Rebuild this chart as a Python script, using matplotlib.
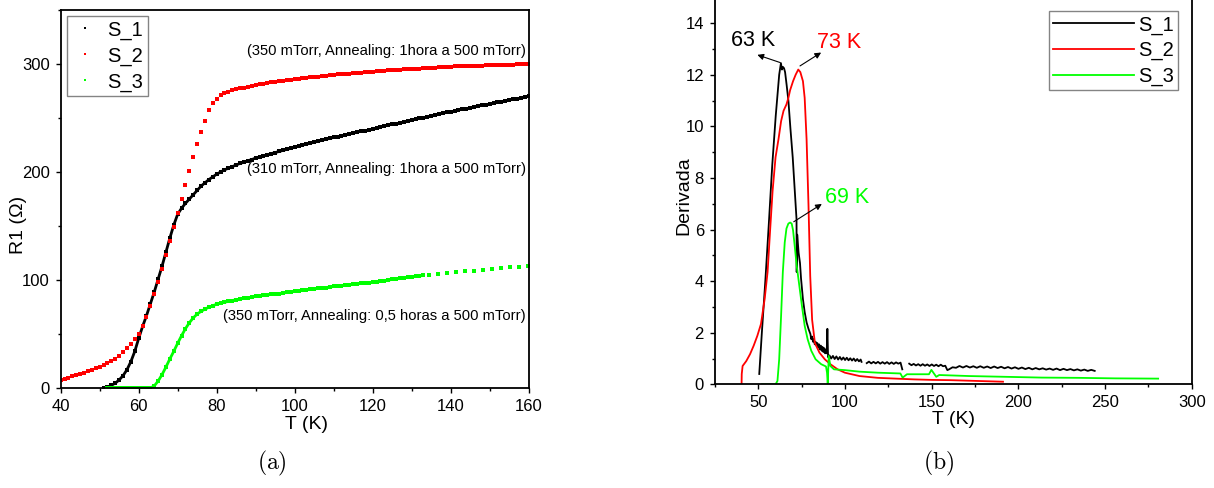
import matplotlib
matplotlib.use("Agg")
import matplotlib.pyplot as plt
import numpy as np
from matplotlib.ticker import MultipleLocator

plt.rcParams['font.family'] = ['Liberation Sans', 'DejaVu Sans']
plt.rcParams['mathtext.fontset'] = 'cm'

# ---- (a) R1 vs T ----
T_s1 = [51, 52, 53, 54, 55, 56, 57, 58, 59, 60, 61, 62, 63, 64, 65, 66, 67, 68, 69, 70,
        71, 72, 73, 74, 75, 76, 77, 78, 79, 80, 81, 82, 83, 84, 85, 86, 87, 88, 89, 90,
        91, 92, 93, 94, 95, 96, 97, 98, 99, 100, 101, 102, 103, 104, 105, 106, 107, 108, 109, 110,
        111, 112, 113, 114, 115, 116, 117, 118, 119, 120, 121, 122, 123, 124, 125, 126, 127, 128, 129, 130,
        131, 132, 133, 134, 135, 136, 137, 138, 139, 140, 141, 142, 143, 144, 145, 146, 147, 148, 149, 150,
        151, 152, 153, 154, 155, 156, 157, 158, 159, 160]
R_s1 = [0.3, 1.0, 2.5, 4.5, 7.5, 11.5, 17.0, 24.5, 34.0, 46.0, 57.0, 67.0, 78.0, 89.0, 101.0, 113.0, 126.0, 139.0, 151.0, 161.0,
        166.5, 171.0, 175.0, 179.0, 183.0, 187.0, 190.0, 193.0, 195.5, 198.0, 200.0, 202.0, 203.5, 205.0, 206.5, 208.0, 209.0, 210.5, 211.5, 213.0,
        214.0, 215.0, 216.0, 217.0, 218.0, 219.0, 220.0, 221.0, 222.0, 223.0, 224.0, 224.9, 225.8, 226.7, 227.6, 228.5, 229.4, 230.3, 231.2, 232.0,
        232.8, 233.6, 234.4, 235.2, 236.0, 236.8, 237.6, 238.4, 239.2, 240.0, 240.8, 241.6, 242.4, 243.2, 244.0, 244.8, 245.6, 246.4, 247.2, 248.0,
        248.8, 249.6, 250.4, 251.2, 252.0, 252.8, 253.6, 254.4, 255.2, 256.0, 256.7, 257.4, 258.1, 258.8, 259.5, 260.2, 260.9, 261.6, 262.3, 263.0,
        263.7, 264.4, 265.1, 265.8, 266.5, 267.2, 267.9, 268.6, 269.3, 270.0]

T_s2 = [40, 41, 42, 43, 44, 45, 46, 47, 48, 49, 50, 51, 52, 53, 54, 55, 56, 57, 58, 59, 60,
        61, 62, 63, 64, 65, 66, 67, 68, 69, 70, 71, 72, 73, 74, 75, 76, 77, 78, 79, 80,
        81, 82, 83, 84, 85, 86, 87, 88, 89, 90, 91, 92, 93, 94, 95, 96, 97, 98, 99, 100,
        101, 102, 103, 104, 105, 106, 107, 108, 109, 110, 111, 112, 113, 114, 115, 116, 117, 118, 119, 120,
        121, 122, 123, 124, 125, 126, 127, 128, 129, 130, 131, 132, 133, 134, 135, 136, 137, 138, 139, 140,
        141, 142, 143, 144, 145, 146, 147, 148, 149, 150, 151, 152, 153, 154, 155, 156, 157, 158, 159, 160]
R_s2 = [7.7, 8.7, 9.7, 10.8, 11.9, 13.0, 14.2, 15.4, 16.7, 18.1, 19.5, 21.0, 22.8, 24.8, 27.2, 30.0, 33.0, 37.0, 41.0, 45.5, 50.0,
        57.0, 66.0, 76.0, 87.0, 98.0, 110.0, 123.0, 136.0, 149.0, 162.0, 175.0, 188.0, 201.0, 214.0, 226.0, 237.0, 247.0, 257.0, 264.0, 268.0,
        271.0, 273.0, 274.3, 275.5, 276.5, 277.4, 278.2, 279.0, 279.8, 280.5, 281.1, 281.7, 282.3, 282.9, 283.4, 283.9, 284.4, 284.9, 285.4, 286.0,
        286.4, 286.8, 287.2, 287.6, 288.0, 288.4, 288.8, 289.2, 289.6, 290.0, 290.3, 290.6, 290.9, 291.2, 291.5, 291.8, 292.1, 292.4, 292.7, 293.0,
        293.2, 293.5, 293.7, 294.0, 294.2, 294.5, 294.7, 295.0, 295.2, 295.4, 295.6, 295.8, 296.1, 296.3, 296.5, 296.7, 296.9, 297.1, 297.4, 297.6,
        297.7, 297.8, 297.9, 298.0, 298.2, 298.3, 298.4, 298.5, 298.7, 298.8, 298.9, 299.0, 299.1, 299.2, 299.4, 299.5, 299.6, 299.7, 299.9, 300.0]

T_s3 = [52, 53, 54, 55, 56, 57, 58, 59, 60, 61, 62, 63, 64, 65, 66, 67, 68, 69, 70,
        71, 72, 73, 74, 75, 76, 77, 78, 79, 80, 81, 82, 83, 84, 85, 86, 87, 88, 89, 90,
        91, 92, 93, 94, 95, 96, 97, 98, 99, 100, 101, 102, 103, 104, 105, 106, 107, 108, 109, 110,
        111, 112, 113, 114, 115, 116, 117, 118, 119, 120, 121, 122, 123, 124, 125, 126, 127, 128, 129, 130,
        131, 132, 133, 134.5, 136.8, 139.1, 141.4, 143.7, 146.0, 148.3, 150.6, 152.9, 155.2, 157.5, 159.8]
R_s3 = [0, 0, 0, 0, 0, 0, 0, 0, 0, 0, 0, 0, 2.0, 6.5, 12.5, 19.5, 27.0, 34.0, 41.5,
        48.5, 55.0, 60.5, 65.0, 68.5, 71.0, 73.0, 74.8, 76.3, 77.5, 78.5, 79.4, 80.2, 81.0, 81.7, 82.4, 83.0, 83.6, 84.2, 84.8,
        85.3, 85.8, 86.2, 86.6, 87.0, 87.5, 88.0, 88.5, 89.0, 89.5, 90.0, 90.5, 91.0, 91.4, 91.8, 92.2, 92.6, 93.0, 93.5, 94.0,
        94.4, 94.8, 95.2, 95.6, 96.0, 96.4, 96.8, 97.2, 97.6, 98.0, 98.5, 99.0, 99.5, 100.0, 100.5, 101.0, 101.5, 102.0, 102.5, 103.0,
        103.4, 103.8, 104.2, 104.8, 105.6, 106.6, 107.2, 108.0, 108.8, 109.6, 110.5, 111.0, 111.6, 112.3, 113.0]

notes_a = ["(350 mTorr, Annealing: 1hora a 500 mTorr)",
           "(310 mTorr, Annealing: 1hora a 500 mTorr)",
           "(350 mTorr, Annealing: 0,5 horas a 500 mTorr)"]
notes_a_y = [312, 203, 67]

# ---- (b) derivative ----
nan = float('nan')
Td_s1 = [50.5, 52, 54, 56, 58, 60, 62, 63.0, 63.6, 64.2, 64.8, 65.4, 66.3, 67.3, 68.5, 69.8, 71.0, 72.0, 72.1, 72.4,
         73.2, 74.0, 74.6, 75.7, 76.7, 77.8, 78.9, 80.0, 80.5, 81.0, 81.5, 82.0, 82.5, 83.0, 83.5, 84.0, 84.5,
         85.0, 85.5, 86.0, 86.5, 87.0, 87.5, 88.0, 88.5, 89.0, 89.4, 89.8, 90.2, 91, 92, 93, 94, 95, 96, 97, 98, 99, 100,
         101, 102, 103, 104, 105, 106, 107, 108, 109, 109.5, 111,
         112.5, 113.8, 115.1, 116.4, 117.7, 119.0, 120.3, 121.6, 122.9, 124.2, 125.5, 126.8, 128.1, 129.4, 130.7, 132.0, 133.0, 135,
         137.0, 138.3, 139.6, 140.9, 142.2, 143.5, 144.8, 146.1, 147.4, 148.7, 150.0, 151.3, 152.6, 153.9, 155.2, 156.5, 157.8, 159.0,
         160, 162, 164, 166, 168, 170, 172, 174, 176, 178, 180, 182, 184, 186, 188, 190, 192, 194, 196, 198, 200,
         202, 204, 206, 208, 210, 212, 214, 216, 218, 220, 222, 224, 226, 228, 230, 232, 234, 236, 238, 240, 242, 244]
D_s1 = [0.4, 2.0, 4.0, 6.2, 8.5, 10.4, 12.0, 12.45, 12.2, 12.3, 12.25, 12.1, 11.6, 11.0, 9.9, 8.8, 7.5, 6.4, 4.35, 5.8,
        5.1, 4.7, 4.1, 3.3, 2.8, 2.4, 2.15, 1.95, 1.75, 1.85, 1.65, 1.75, 1.55, 1.65, 1.5, 1.6, 1.42,
        1.55, 1.35, 1.5, 1.3, 1.45, 1.25, 1.4, 1.2, 1.35, 1.2, 2.15, 1.05, 1.12, 1.0, 1.1, 0.98, 1.08, 0.96, 1.06, 0.95, 1.04, 0.94,
        1.03, 0.93, 1.01, 0.92, 1.0, 0.9, 0.98, 0.89, 0.96, 0.87, nan,
        0.82, 0.88, 0.81, 0.87, 0.81, 0.87, 0.8, 0.86, 0.8, 0.86, 0.79, 0.85, 0.79, 0.85, 0.8, 0.84, 0.58, nan,
        0.8, 0.74, 0.79, 0.73, 0.78, 0.72, 0.78, 0.72, 0.77, 0.71, 0.77, 0.71, 0.76, 0.7, 0.76, 0.7, 0.72, 0.55,
        0.58, 0.66, 0.64, 0.71, 0.65, 0.71, 0.65, 0.70, 0.64, 0.70, 0.64, 0.69, 0.63, 0.69, 0.63, 0.68, 0.62, 0.67, 0.61, 0.66, 0.60,
        0.65, 0.59, 0.64, 0.58, 0.63, 0.58, 0.62, 0.57, 0.61, 0.56, 0.61, 0.55, 0.60, 0.55, 0.59, 0.54, 0.58, 0.53, 0.57, 0.52, 0.56, 0.52]

Td_s2 = [40.3, 40.4, 40.9, 43, 45.2, 47.3, 49.4, 51.5, 53.6, 55.3, 56.7, 58.2, 59.9, 61.6, 63.1, 64.5, 66.2, 67.3, 68.3, 70,
         71.5, 73, 74.2, 75.7, 76.7, 77.8, 78.9, 79.9, 81, 82.6, 85.2, 88.3, 91.5, 95.7, 99.9, 108.3, 118.9, 129.4, 139.9,
         150.4, 161, 176, 191.1]
D_s2 = [0, 0.4, 0.71, 0.9, 1.17, 1.5, 1.88, 2.34, 3.3, 4.35, 5.9, 7.5, 8.8, 9.5, 10.2, 10.6, 10.85, 11.1, 11.4, 11.75,
        12.0, 12.2, 12.1, 11.75, 11.1, 9.5, 6.95, 4.2, 2.5, 1.6, 1.23, 0.97, 0.78, 0.58, 0.45, 0.32, 0.25, 0.22, 0.19,
        0.17, 0.16, 0.13, 0.1]

Td_s3 = [52.1, 59.9, 61, 62, 63.1, 64.1, 65.2, 66.2, 67.3, 68.3, 69.2, 70, 70.9, 72.1, 73.6, 75.1, 76.7, 78.4, 80.5,
         83, 86.2, 89, 89.6, 90, 90.6, 91.5, 93.6, 99.9, 108.3, 118.9, 131.9, 133.2, 135.7, 148.4, 149.8, 152.6,
         154.3, 171.5, 192.6, 213.6, 234.7, 255.8, 280.6]
D_s3 = [0, 0, 0.13, 0.97, 2.66, 4.35, 5.5, 6.04, 6.23, 6.27, 6.23, 5.97, 5.4, 4.6, 3.83, 3.05, 2.27, 1.75, 1.3,
        0.97, 0.78, 0.69, 0.45, 0.04, 1.1, 0.71, 0.58, 0.55, 0.49, 0.45, 0.42, 0.26, 0.39, 0.39, 0.56, 0.29,
        0.36, 0.32, 0.29, 0.26, 0.25, 0.23, 0.22]

labels = ["S_1", "S_2", "S_3"]
colors = ["black", "red", "#00ff00"]

# peak labels: text, text pos, arrow tail, arrow head
peaks = [("63 K", (34.2, 13.34), (62.6, 12.47), (49.4, 12.77)),
         ("73 K", (83.7, 13.25), (74.0, 12.34), (86.2, 12.86)),
         ("69 K", (88.3, 7.25), (70.4, 6.3), (86.6, 6.99))]

fig = plt.figure(figsize=(12.14, 4.88), dpi=100)
ax1 = fig.add_axes([0.050, 0.2049, 0.3855, 0.7746])
ax2 = fig.add_axes([0.589, 0.2125, 0.3927, 0.793])

# (a)
ms = 2.2
ax1.plot(T_s1[:60], R_s1[:60], '-', color=colors[0], lw=2.0)
ax1.plot(T_s1, R_s1, 's', color=colors[0], ms=ms, mew=0, label=labels[0])
ax1.plot(T_s2, R_s2, 's', color=colors[1], ms=ms, mew=0, label=labels[1])
ax1.plot(T_s3[:82], R_s3[:82], '-', color=colors[2], lw=2.0)
ax1.plot(T_s3, R_s3, 's', color=colors[2], ms=ms, mew=0, label=labels[2])
for s, yy in zip(notes_a, notes_a_y):
    ax1.text(159.2, yy, s, ha='right', va='center', fontsize=10.6)

ax1.set_xlim(40, 160)
ax1.set_ylim(0, 350)
ax1.xaxis.set_major_locator(MultipleLocator(20))
ax1.xaxis.set_minor_locator(MultipleLocator(10))
ax1.yaxis.set_major_locator(MultipleLocator(100))
ax1.yaxis.set_minor_locator(MultipleLocator(50))
ax1.set_xlabel("T (K)", fontsize=14)
ax1.set_ylabel("R1 (Ω)", fontsize=14)
ax1.xaxis.set_label_coords(0.525, -0.073)
ax1.yaxis.set_label_coords(-0.072, 0.431)
ax1.legend(loc='upper left', fontsize=14.5, markerscale=0.9, frameon=True, fancybox=False,
           edgecolor='#666666', handlelength=1.4, handletextpad=0.4, labelspacing=0.33,
           borderpad=0.22, borderaxespad=0.3)

# (b)
ax2.plot(Td_s1, D_s1, color=colors[0], lw=1.3, label=labels[0])
ax2.plot(Td_s2, D_s2, color=colors[1], lw=1.3, label=labels[1])
ax2.plot(Td_s3, D_s3, color=colors[2], lw=1.3, label=labels[2])
for (txt, tpos, tail, head), c in zip(peaks, colors):
    ax2.annotate("", xy=head, xytext=tail,
                 arrowprops=dict(arrowstyle='-|>', color='black', lw=0.8,
                                 mutation_scale=9, shrinkA=0, shrinkB=0))
    ax2.text(tpos[0], tpos[1], txt, color=c, fontsize=15.5, ha='left', va='center')

ax2.set_xlim(25, 300)
ax2.set_ylim(0, 15)
ax2.xaxis.set_major_locator(MultipleLocator(50))
ax2.xaxis.set_minor_locator(MultipleLocator(25))
ax2.yaxis.set_major_locator(MultipleLocator(2))
ax2.yaxis.set_minor_locator(MultipleLocator(1))
ax2.set_xlabel("T (K)", fontsize=14)
ax2.set_ylabel("Derivada", fontsize=14)
ax2.xaxis.set_label_coords(0.5, -0.070)
ax2.yaxis.set_label_coords(-0.048, 0.487)
ax2.legend(loc='upper right', fontsize=14.5, frameon=True, fancybox=False,
           edgecolor='#666666', handlelength=4.0, handletextpad=0.2, labelspacing=0.32,
           borderpad=0.2, borderaxespad=0.7)

for ax in (ax1, ax2):
    for sp in ax.spines.values():
        sp.set_linewidth(1.3)
    ax.tick_params(which='major', direction='out', length=3.5, width=1.0, labelsize=12, pad=4.5)
    ax.tick_params(which='minor', direction='out', length=2.5, width=1.0)

fig.text(272 / 1214, 1 - 463 / 488, r'$\mathrm{(a)}$', fontsize=17, ha='center', va='center')
fig.text(939 / 1214, 1 - 463 / 488, r'$\mathrm{(b)}$', fontsize=17, ha='center', va='center')

fig.savefig("out.png", dpi=100)
